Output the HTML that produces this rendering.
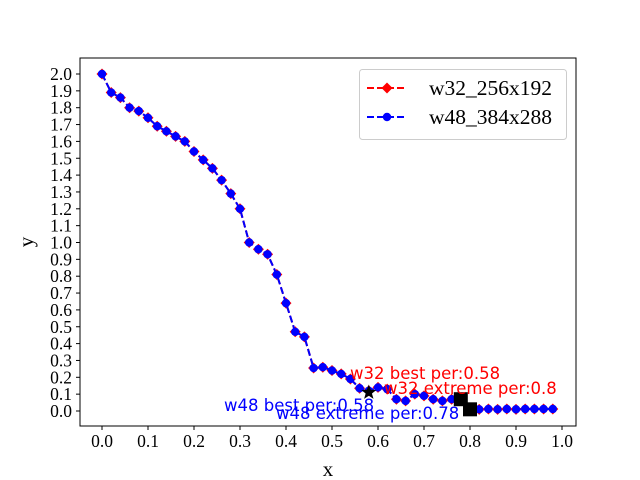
<!DOCTYPE html>
<html><head><meta charset="utf-8"><style>
html,body{margin:0;padding:0;background:#fff;}
svg{display:block;}
.tk{font-family:"Liberation Serif",serif;font-size:17.5px;fill:#000;}
.an{font-family:"DejaVu Sans",sans-serif;font-size:16.5px;}
</style></head><body>
<svg id="chart" width="640" height="480" viewBox="0 0 640 480" xmlns="http://www.w3.org/2000/svg">
<g id="marks"></g>
<g id="axes"></g>
</svg>
<script>
const xs = [0,0.02,0.04,0.06,0.08,0.10,0.12,0.14,0.16,0.18,0.20,0.22,0.24,0.26,0.28,0.30,0.32,0.34,0.36,0.38,0.40,0.42,0.44,0.46,0.48,0.50,0.52,0.54,0.56,0.58,0.60,0.62,0.64,0.66,0.68,0.70,0.72,0.74,0.76,0.78,0.80,0.82,0.84,0.86,0.88,0.90,0.92,0.94,0.96,0.98];
const w32 = [2.0,1.89,1.86,1.80,1.78,1.74,1.69,1.66,1.63,1.60,1.54,1.49,1.44,1.37,1.29,1.20,1.00,0.96,0.93,0.81,0.64,0.47,0.44,0.255,0.26,0.24,0.22,0.19,0.135,0.12,0.14,0.13,0.07,0.06,0.10,0.09,0.07,0.06,0.07,0.07,0.01,0.01,0.012,0.01,0.012,0.01,0.012,0.012,0.012,0.012];
const w48 = w32.slice();
const xTicks = [0,0.1,0.2,0.3,0.4,0.5,0.6,0.7,0.8,0.9,1.0];
const yTicks = [0,0.1,0.2,0.3,0.4,0.5,0.6,0.7,0.8,0.9,1.0,1.1,1.2,1.3,1.4,1.5,1.6,1.7,1.8,1.9,2.0];
const star = [0.58,0.11];
const sq1 = [0.78,0.07];
const sq2 = [0.80,0.01];

const X = v => 102 + v*460;
const Y = v => 411 - v*168.5;
const NS = "http://www.w3.org/2000/svg";
const marks = document.getElementById('marks');
const axes = document.getElementById('axes');
function mk(tag, attrs, parent){const e=document.createElementNS(NS,tag);for(const k in attrs)e.setAttribute(k,attrs[k]);parent.appendChild(e);return e;}

function series(vals, color, name, diamond){
  const g = mk('g',{},marks);
  
  
  const pts = xs.map((x,i)=>X(x)+','+Y(vals[i])).join(' ');
  mk('polyline',{points:pts,fill:'none',stroke:color,'stroke-width':2,'stroke-dasharray':'7,3'},g);
  xs.forEach((x,i)=>{
    let m;
    if(diamond){
      const cx=X(x), cy=Y(vals[i]), r=5.5;
      m = mk('polygon',{points:`${cx},${cy-r} ${cx+r},${cy} ${cx},${cy+r} ${cx-r},${cy}`,fill:color},g);
    } else {
      m = mk('circle',{cx:X(x),cy:Y(vals[i]),r:4.2,fill:color},g);
    }
    
    
  });
}
series(w32,'#ff0000','series-w32',true);
series(w48,'#0000ff','series-w48',false);

(function(){
  const cx=X(star[0]), cy=Y(star[1]), R=8, r=3.3; let p=[];
  for(let i=0;i<10;i++){const a=-Math.PI/2+i*Math.PI/5;const rr=i%2?r:R;p.push((cx+rr*Math.cos(a))+','+(cy+rr*Math.sin(a)));}
  const s=mk('polygon',{points:p.join(' '),fill:'#000'},marks);
  
  
})();
[sq1,sq2].forEach(q=>{
  const s=mk('rect',{x:X(q[0])-7,y:Y(q[1])-7,width:14,height:14,fill:'#000'},marks);
  
  
});

const anns=[["w32 best per:0.58",350,379,'#ff0000'],["w32 extreme per:0.8",384,394,'#ff0000'],["w48 best per:0.58",224,411,'#0000ff'],["w48 extreme per:0.78",276,419,'#0000ff']];
anns.forEach(a=>{const t=mk('text',{x:a[1],y:a[2],class:'an',fill:a[3]},marks);t.textContent=a[0];
  
  });

const fr=mk('rect',{x:80,y:58,width:496,height:368,fill:'none',stroke:'#000','stroke-width':1},axes);


xTicks.forEach(v=>{
  mk('line',{x1:X(v),x2:X(v),y1:426,y2:430,stroke:'#000'},axes);
  const t=mk('text',{x:X(v),y:447,'text-anchor':'middle',class:'tk'},axes);t.textContent=v.toFixed(1);
  
  
});
yTicks.forEach(v=>{
  mk('line',{x1:76,x2:80,y1:Y(v),y2:Y(v),stroke:'#000'},axes);
  const t=mk('text',{x:72,y:Y(v)+6,'text-anchor':'end',class:'tk'},axes);t.textContent=v.toFixed(1);
  
  
});
</script>
<svg style="position:absolute;left:0;top:0" width="640" height="480">
<text x="328" y="476" text-anchor="middle" style="font-family:'Liberation Serif',serif;font-size:21px">x</text>
<text x="33" y="242" text-anchor="middle" transform="rotate(-90 33 242)" style="font-family:'Liberation Serif',serif;font-size:21px">y</text>
<g>
<rect x="359.5" y="69.5" width="207" height="70" rx="3" fill="#fff" stroke="#ccc"/>
<g>
<line x1="367" y1="88" x2="407" y2="88" stroke="#ff0000" stroke-width="2" stroke-dasharray="7,3"/>
<polygon points="387,82.5 392.5,88 387,93.5 381.5,88" fill="#ff0000"/>
<text x="429" y="95" style="font-family:'Liberation Serif',serif;font-size:21.5px">w32_256x192</text>
</g>
<g>
<line x1="367" y1="117" x2="407" y2="117" stroke="#0000ff" stroke-width="2" stroke-dasharray="7,3"/>
<circle cx="387" cy="117" r="4.2" fill="#0000ff"/>
<text x="429" y="124" style="font-family:'Liberation Serif',serif;font-size:21.5px">w48_384x288</text>
</g>
</g>
</svg>
</body></html>
